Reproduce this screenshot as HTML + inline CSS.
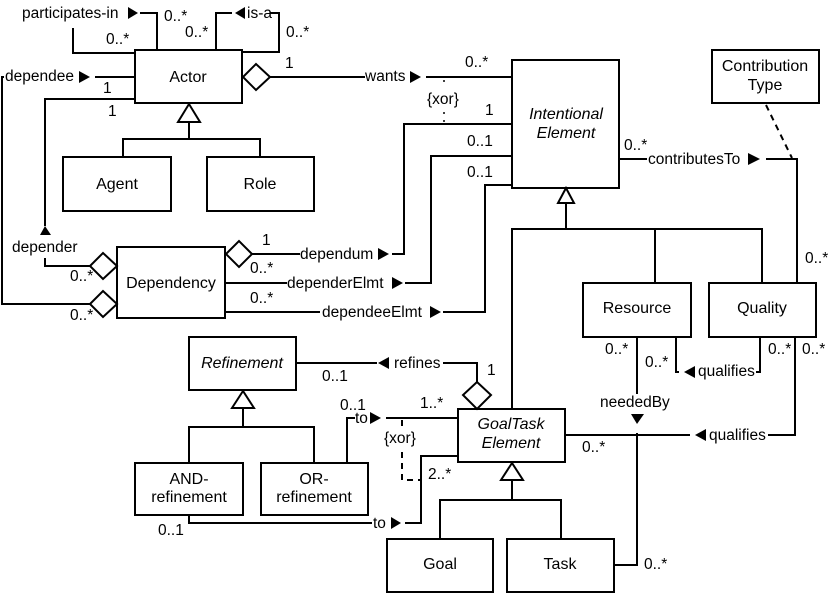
<!DOCTYPE html>
<html><head><meta charset="utf-8"><style>
html,body{margin:0;padding:0;background:#fff}
svg{display:block}
text{font-family:"Liberation Sans",sans-serif;font-size:15.5px;fill:#000}
.b{font-size:16px}
</style></head><body>
<svg width="830" height="594" viewBox="0 0 830 594" xmlns="http://www.w3.org/2000/svg">
<g fill="#fff" stroke="#000" stroke-width="2">
<rect x="135" y="50" width="107" height="53"/>
<rect x="63" y="157" width="108" height="54"/>
<rect x="207" y="157" width="107" height="54"/>
<rect x="117" y="247" width="108" height="71"/>
<rect x="512" y="60" width="107" height="128"/>
<rect x="712" y="50" width="107" height="53"/>
<rect x="583" y="283" width="108" height="54"/>
<rect x="709" y="283" width="107" height="54"/>
<rect x="458" y="409" width="107" height="53"/>
<rect x="387" y="539" width="106" height="53"/>
<rect x="507" y="539" width="107" height="53"/>
<rect x="189" y="337" width="107" height="53"/>
<rect x="135" y="463" width="108" height="52"/>
<rect x="261" y="463" width="107" height="52"/>
</g>
<g fill="none" stroke="#000" stroke-width="2">
<polyline points="157,50 157,13 140,13"/>
<polyline points="73,28 73,53 135,53"/>
<polyline points="216,50 216,13 232,13"/>
<polyline points="270,13 279,13 279,52 242,52"/>
<line x1="95" y1="77" x2="135" y2="77"/>
<polyline points="4,77 2,77 2,304 90,304"/>
<polyline points="135,99 45,99 45,226"/>
<polyline points="45,258 45,266 90,266"/>
<line x1="189" y1="122" x2="189" y2="139"/>
<polyline points="123,157 123,139 260,139 260,157"/>
<line x1="270" y1="77" x2="365" y2="77"/>
<line x1="426" y1="77" x2="512" y2="77"/>
<polyline points="392,254 404,254 404,124 512,124"/>
<polyline points="405,283 431,283 431,156 512,156"/>
<polyline points="443,312 485,312 485,185 512,185"/>
<line x1="225" y1="254" x2="300" y2="254"/>
<line x1="225" y1="283" x2="287" y2="283"/>
<line x1="225" y1="312" x2="320" y2="312"/>
<line x1="566" y1="204" x2="566" y2="229"/>
<polyline points="512,409 512,229 762,229 762,283"/>
<line x1="655" y1="229" x2="655" y2="283"/>
<line x1="619" y1="159" x2="647" y2="159"/>
<polyline points="766,159 797,159 797,283"/>
<line x1="637" y1="337" x2="637" y2="394"/>
<polyline points="637,433 637,565 614,565"/>
<polyline points="676,337 676,372 679,372"/>
<polyline points="756,372 760,372 760,337"/>
<polyline points="768,435 795,435 795,337"/>
<line x1="565" y1="435" x2="690" y2="435"/>
<line x1="512" y1="480" x2="512" y2="500"/>
<polyline points="440,539 440,500 561,500 561,539"/>
<polyline points="477,382 477,363 443,363"/>
<line x1="296" y1="363" x2="377" y2="363"/>
<line x1="243" y1="408" x2="243" y2="427"/>
<polyline points="189,463 189,427 314,427 314,463"/>
<polyline points="347,463 347,418 355,418"/>
<line x1="386" y1="418" x2="458" y2="418"/>
<polyline points="189,515 189,523 372,523"/>
<polyline points="405,523 421,523 421,456 458,456"/>
</g>
<g fill="none" stroke="#000" stroke-width="2" stroke-dasharray="6,5">
<line x1="766" y1="105" x2="792" y2="158"/>
<line x1="402" y1="420" x2="402" y2="428"/>
<polyline points="402,452 402,480 420,480"/>
</g>
<g fill="none" stroke="#000" stroke-width="1.5" stroke-dasharray="2,6">
<line x1="444" y1="80" x2="444" y2="88"/>
<line x1="444" y1="112" x2="444" y2="124"/>
</g>
<g fill="#fff" stroke="#000" stroke-width="2">
<polygon points="243,77 256,64 270,77 256,90"/>
<polygon points="90,266 103,253 117,266 103,279"/>
<polygon points="90,304 103,291 117,304 103,317"/>
<polygon points="226,254 239,241 252,254 239,267"/>
<polygon points="477,382 491,395 477,409 463,395"/>
<polygon points="566,188 558,203 574,203"/>
<polygon points="189,104 178,122 200,122"/>
<polygon points="243,391 232,408 254,408"/>
<polygon points="512,463 501,480 523,480"/>
</g>
<g fill="#000">
<polygon points="128,7 138,13 128,19"/>
<polygon points="245,7 235,13 245,19"/>
<polygon points="79,71 90,77 79,83"/>
<polygon points="40,235 45,226 51,235"/>
<polygon points="410,71 421,77 410,83"/>
<polygon points="378,248 389,254 378,260"/>
<polygon points="392,277 403,283 392,289"/>
<polygon points="430,306 441,312 430,318"/>
<polygon points="748,153 760,159 748,165"/>
<polygon points="631,414 644,414 637,424"/>
<polygon points="695,366 684,372 695,378"/>
<polygon points="706,429 695,435 706,441"/>
<polygon points="389,357 378,363 389,369"/>
<polygon points="370,412 381,418 370,424"/>
<polygon points="391,517 401,523 391,529"/>
</g>
<g>
<text x="22" y="18">participates-in</text>
<text x="164" y="21">0..*</text>
<text x="106" y="44">0..*</text>
<text x="247" y="18">is-a</text>
<text x="185" y="37">0..*</text>
<text x="286" y="37">0..*</text>
<text x="5" y="81">dependee</text>
<text x="103" y="93">1</text>
<text x="108" y="116">1</text>
<text x="12" y="252">depender</text>
<text x="70" y="281">0..*</text>
<text x="70" y="320">0..*</text>
<text x="285" y="68">1</text>
<text x="365" y="81">wants</text>
<text x="465" y="67">0..*</text>
<text x="427" y="104" font-size="14">{xor}</text>
<text x="485" y="115">1</text>
<text x="467" y="146">0..1</text>
<text x="467" y="177">0..1</text>
<text x="262" y="245">1</text>
<text x="250" y="273">0..*</text>
<text x="300" y="259">dependum</text>
<text x="287" y="288">dependerElmt</text>
<text x="250" y="303">0..*</text>
<text x="322" y="317">dependeeElmt</text>
<text x="624" y="150">0..*</text>
<text x="648" y="164">contributesTo</text>
<text x="805" y="263">0..*</text>
<text x="605" y="354">0..*</text>
<text x="645" y="367">0..*</text>
<text x="698" y="376">qualifies</text>
<text x="768" y="354">0..*</text>
<text x="802" y="354">0..*</text>
<text x="600" y="407">neededBy</text>
<text x="709" y="440">qualifies</text>
<text x="582" y="452">0..*</text>
<text x="644" y="569">0..*</text>
<text x="394" y="368">refines</text>
<text x="487" y="375">1</text>
<text x="322" y="381">0..1</text>
<text x="340" y="410">0..1</text>
<text x="355" y="423">to</text>
<text x="420" y="408">1..*</text>
<text x="384" y="443" font-size="14">{xor}</text>
<text x="428" y="479">2..*</text>
<text x="373" y="528">to</text>
<text x="158" y="535">0..1</text>
</g>
<g text-anchor="middle">
<text x="188" y="82" class="b">Actor</text>
<text x="117" y="189" class="b">Agent</text>
<text x="260" y="189" class="b">Role</text>
<text x="171" y="288" class="b">Dependency</text>
<text x="566" y="119" class="b" font-style="italic">Intentional</text>
<text x="566" y="138" class="b" font-style="italic">Element</text>
<text x="765" y="71" class="b">Contribution</text>
<text x="765" y="90" class="b">Type</text>
<text x="637" y="313" class="b">Resource</text>
<text x="762" y="313" class="b">Quality</text>
<text x="511" y="429" class="b" font-style="italic">GoalTask</text>
<text x="511" y="448" class="b" font-style="italic">Element</text>
<text x="440" y="569" class="b">Goal</text>
<text x="560" y="569" class="b">Task</text>
<text x="242" y="368" class="b" font-style="italic">Refinement</text>
<text x="189" y="484" class="b">AND-</text>
<text x="189" y="502" class="b">refinement</text>
<text x="314" y="484" class="b">OR-</text>
<text x="314" y="502" class="b">refinement</text>
</g>
</svg>
</body></html>
